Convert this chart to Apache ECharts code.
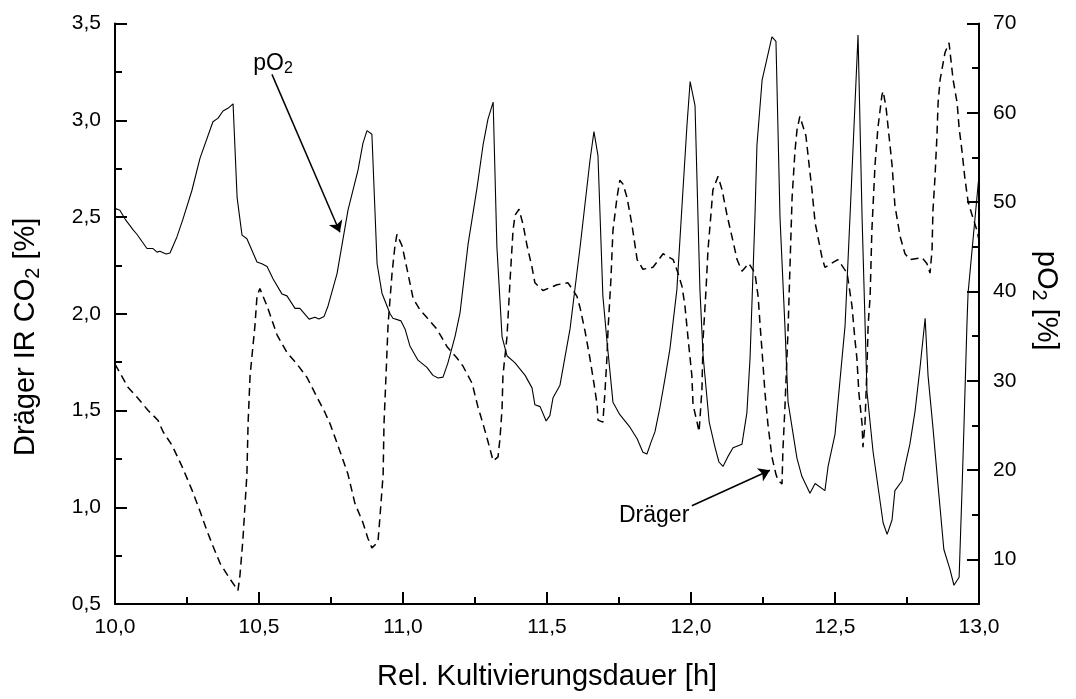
<!DOCTYPE html>
<html>
<head>
<meta charset="utf-8">
<script src="https://cdn.jsdelivr.net/npm/echarts@6/dist/echarts.min.js"></script>
<style>
  html, body { margin: 0; padding: 0; background: #fff; }
  #chart { width: 1076px; height: 699px; }
</style>
</head>
<body>
<div id="chart"></div>
<script>
// pO2 probe signal [%] (solid line, right axis)
const timeO2 = [
  10.000, 10.017, 10.035, 10.063, 10.076, 10.111, 10.132, 10.146, 10.156, 10.177,
  10.191, 10.215, 10.236, 10.267, 10.295, 10.340, 10.358, 10.375, 10.392, 10.410,
  10.424, 10.441, 10.458, 10.493, 10.510, 10.528, 10.549, 10.580, 10.597, 10.625,
  10.642, 10.674, 10.694, 10.708, 10.726, 10.740, 10.771, 10.809, 10.844, 10.861,
  10.875, 10.892, 10.910, 10.927, 10.955, 10.965, 10.993, 11.007, 11.024, 11.052,
  11.083, 11.104, 11.122, 11.139, 11.156, 11.181, 11.198, 11.226, 11.257, 11.278,
  11.295, 11.313, 11.326, 11.344, 11.361, 11.389, 11.424, 11.448, 11.458, 11.476,
  11.497, 11.510, 11.521, 11.545, 11.580, 11.615, 11.649, 11.663, 11.677, 11.694,
  11.708, 11.729, 11.753, 11.788, 11.813, 11.833, 11.847, 11.861, 11.875, 11.892,
  11.910, 11.927, 11.951, 11.972, 11.986, 11.997, 12.014, 12.031, 12.042, 12.063,
  12.083, 12.097, 12.111, 12.128, 12.146, 12.177, 12.194, 12.205, 12.222, 12.229,
  12.247, 12.281, 12.295, 12.309, 12.326, 12.337, 12.368, 12.385, 12.413, 12.431,
  12.465, 12.476, 12.500, 12.535, 12.552, 12.580, 12.594, 12.611, 12.632, 12.667,
  12.681, 12.698, 12.708, 12.733, 12.743, 12.760, 12.778, 12.795, 12.813, 12.823,
  12.840, 12.858, 12.878, 12.899, 12.913, 12.931, 12.941, 12.948, 12.958, 12.962,
  13.000
];
const pO2Values = [
  49.3, 49.1, 48.1, 46.9, 46.4, 44.8, 44.8, 44.4, 44.5, 44.2,
  44.3, 46.1, 48.1, 51.3, 54.9, 59.0, 59.4, 60.2, 60.5, 61.0,
  50.5, 46.3, 45.9, 43.3, 43.1, 42.8, 41.4, 39.7, 39.5, 38.1,
  38.1, 36.9, 37.1, 36.9, 37.2, 38.4, 42.0, 49.1, 53.6, 56.6,
  58.0, 57.6, 43.1, 39.8, 37.5, 37.0, 36.7, 35.8, 33.9, 32.3,
  31.5, 30.6, 30.3, 30.4, 32.0, 35.0, 37.6, 45.3, 51.6, 56.4,
  59.3, 61.2, 45.0, 34.9, 32.8, 32.0, 30.6, 29.2, 27.3, 27.1,
  25.5, 26.1, 28.1, 29.5, 35.8, 45.0, 54.6, 57.9, 55.2, 39.5,
  34.5, 27.6, 26.2, 24.8, 23.5, 22.0, 21.8, 23.1, 24.3, 27.0,
  30.3, 33.6, 40.2, 51.3, 58.6, 63.5, 60.8, 40.2, 32.8, 25.4,
  22.6, 20.9, 20.4, 21.5, 22.5, 22.9, 26.4, 32.5, 48.3, 56.4,
  63.7, 68.5, 68.0, 48.3, 36.2, 27.6, 21.3, 19.3, 17.4, 18.5,
  17.7, 20.4, 24.0, 36.2, 48.3, 68.7, 48.3, 28.8, 22.1, 14.1,
  12.8, 14.4, 17.7, 18.8, 20.4, 22.9, 26.6, 31.4, 37.0, 30.6,
  24.8, 18.2, 11.1, 8.9, 7.1, 8.0, 17.7, 25.1, 36.2, 39.8,
  53.0
];

// Dräger IR off-gas CO2 [%] (dashed line, left axis)
const timeCO2 = [
  10.000, 10.045, 10.076, 10.115, 10.149, 10.167, 10.198, 10.233, 10.267, 10.295,
  10.319, 10.340, 10.365, 10.399, 10.427, 10.434, 10.444, 10.458, 10.462, 10.469,
  10.486, 10.493, 10.503, 10.528, 10.563, 10.597, 10.632, 10.667, 10.701, 10.729,
  10.747, 10.781, 10.809, 10.833, 10.861, 10.878, 10.892, 10.913, 10.920, 10.931,
  10.934, 10.941, 10.948, 10.962, 10.972, 10.979, 10.997, 11.007, 11.024, 11.035,
  11.059, 11.083, 11.118, 11.153, 11.188, 11.208, 11.240, 11.260, 11.278, 11.295,
  11.313, 11.330, 11.337, 11.344, 11.347, 11.361, 11.372, 11.382, 11.389, 11.403,
  11.417, 11.431, 11.448, 11.458, 11.486, 11.535, 11.573, 11.604, 11.615, 11.632,
  11.649, 11.663, 11.674, 11.677, 11.694, 11.701, 11.708, 11.712, 11.722, 11.729,
  11.743, 11.753, 11.764, 11.778, 11.795, 11.813, 11.833, 11.868, 11.903, 11.938,
  11.955, 11.969, 11.979, 11.990, 12.003, 12.007, 12.021, 12.028, 12.038, 12.042,
  12.052, 12.059, 12.069, 12.076, 12.094, 12.108, 12.125, 12.142, 12.160, 12.177,
  12.201, 12.222, 12.233, 12.240, 12.247, 12.257, 12.267, 12.281, 12.295, 12.302,
  12.316, 12.319, 12.326, 12.333, 12.337, 12.344, 12.351, 12.361, 12.368, 12.378,
  12.399, 12.410, 12.420, 12.431, 12.455, 12.465, 12.510, 12.542, 12.559, 12.569,
  12.576, 12.583, 12.594, 12.597, 12.604, 12.611, 12.615, 12.622, 12.628, 12.639,
  12.649, 12.663, 12.667, 12.677, 12.684, 12.698, 12.708, 12.726, 12.743, 12.760,
  12.802, 12.819, 12.830, 12.837, 12.840, 12.847, 12.854, 12.858, 12.865, 12.882,
  12.896, 12.910, 12.924, 12.931, 12.941, 12.951, 12.962, 12.976, 12.993, 13.000
];
const co2Values = [
  1.74, 1.62, 1.57, 1.50, 1.45, 1.39, 1.32, 1.21, 1.09, 0.98,
  0.88, 0.80, 0.71, 0.63, 0.57, 0.65, 0.83, 1.17, 1.43, 1.68,
  1.94, 2.09, 2.13, 2.04, 1.89, 1.80, 1.74, 1.67, 1.57, 1.49,
  1.43, 1.29, 1.17, 1.02, 0.92, 0.84, 0.79, 0.82, 0.95, 1.17,
  1.43, 1.68, 1.94, 2.21, 2.35, 2.41, 2.35, 2.28, 2.16, 2.08,
  2.02, 1.98, 1.92, 1.83, 1.77, 1.73, 1.64, 1.52, 1.43, 1.34,
  1.24, 1.26, 1.36, 1.51, 1.68, 1.88, 2.18, 2.43, 2.51, 2.54,
  2.46, 2.35, 2.24, 2.16, 2.12, 2.15, 2.16, 2.09, 2.03, 1.91,
  1.77, 1.64, 1.53, 1.45, 1.44, 1.59, 1.77, 1.92, 2.18, 2.43,
  2.60, 2.69, 2.67, 2.60, 2.46, 2.28, 2.23, 2.24, 2.31, 2.28,
  2.21, 2.14, 2.04, 1.87, 1.68, 1.53, 1.44, 1.39, 1.61, 1.87,
  2.12, 2.33, 2.51, 2.64, 2.71, 2.64, 2.51, 2.40, 2.28, 2.22,
  2.26, 2.21, 2.09, 1.94, 1.80, 1.59, 1.43, 1.26, 1.17, 1.14,
  1.12, 1.29, 1.51, 1.77, 1.92, 2.26, 2.60, 2.84, 2.95, 3.02,
  2.92, 2.77, 2.64, 2.47, 2.29, 2.24, 2.28, 2.21, 2.04, 1.87,
  1.77, 1.59, 1.43, 1.31, 1.43, 1.72, 1.94, 2.09, 2.43, 2.77,
  2.96, 3.13, 3.15, 3.07, 2.97, 2.77, 2.56, 2.40, 2.31, 2.28,
  2.29, 2.26, 2.21, 2.33, 2.53, 2.70, 2.92, 3.09, 3.21, 3.35,
  3.40, 3.21, 3.09, 2.96, 2.84, 2.70, 2.58, 2.51, 2.43, 2.38
];

// Axis tick values
const xTicks = [10, 10.5, 11, 11.5, 12, 12.5, 13];
const co2Ticks = [0.5, 1, 1.5, 2, 2.5, 3, 3.5];
const pO2Ticks = [10, 20, 30, 40, 50, 60, 70];
const pO2MinorTicks = [15, 25, 35, 45, 55, 65];

// Annotation arrows (data coordinates on the CO2 axis)
const pO2Label = [10.549, 3.293];
const pO2Arrow = [[10.545, 3.237], [10.781, 2.421]];
const draegerLabel = [11.872, 0.958];
const draegerArrow = [[12.003, 1.008], [12.274, 1.191]];

const FONT = '"Liberation Sans", Arial, Helvetica, sans-serif';
const comma = v => v.toFixed(1).replace('.', ',');

const zip = (xs, ys) => xs.map((x, i) => [x, ys[i]]);

const tickStyle = { color: '#000', width: 2 };
const labelStyle = { color: '#000', fontSize: 21, fontFamily: FONT };
const nameStyle = {
  color: '#000', fontSize: 29, fontFamily: FONT, lineHeight: 34,
  rich: { sub: { fontSize: 20, lineHeight: 12, verticalAlign: 'bottom', fontFamily: FONT } }
};

const chart = echarts.init(document.getElementById('chart'), null, { renderer: 'canvas' });

chart.setOption({
  animation: false,
  backgroundColor: '#fff',
  grid: { left: 115, right: 97, top: 23.5, bottom: 87, containLabel: false },
  xAxis: {
    type: 'value', min: xTicks[0], max: xTicks[xTicks.length - 1], interval: 0.5,
    axisLine: { lineStyle: tickStyle },
    axisTick: { inside: true, length: 12, lineStyle: tickStyle },
    minorTick: { show: true, splitNumber: 2, length: 7, lineStyle: tickStyle },
    splitLine: { show: false },
    axisLabel: { ...labelStyle, margin: 13, formatter: comma },
    name: 'Rel. Kultivierungsdauer [h]', nameLocation: 'middle', nameGap: 56,
    nameTextStyle: nameStyle
  },
  yAxis: [
    {
      type: 'value', position: 'left', min: co2Ticks[0], max: co2Ticks[co2Ticks.length - 1], interval: 0.5,
      axisLine: { show: true, lineStyle: tickStyle },
      axisTick: { inside: true, length: 12, lineStyle: tickStyle },
      minorTick: { show: true, splitNumber: 2, length: 7, lineStyle: tickStyle },
      splitLine: { show: false },
      axisLabel: { ...labelStyle, margin: 14, formatter: comma },
      name: 'Dräger IR CO{sub|2} [%]', nameLocation: 'middle', nameGap: 72,
      nameTextStyle: { ...nameStyle, padding: [0, 46, 0, 0] }
    },
    {
      type: 'value', position: 'right', min: 5, max: 70,
      axisLine: { show: true, lineStyle: tickStyle },
      axisTick: { inside: true, length: 12, lineStyle: tickStyle, customValues: pO2Ticks },
      splitLine: { show: false },
      axisLabel: { ...labelStyle, margin: 14, customValues: pO2Ticks },
      name: 'pO{sub|2} [%]', nameLocation: 'middle', nameGap: 50, nameRotate: -90,
      nameTextStyle: { ...nameStyle, padding: [0, 26, 0, 0] }
    },
    {
      type: 'value', position: 'right', min: 5, max: 70,
      axisLine: { show: false },
      axisTick: { show: true, inside: true, length: 7, lineStyle: tickStyle, customValues: pO2MinorTicks },
      axisLabel: { show: false },
      splitLine: { show: false }
    }
  ],
  series: [
    {
      name: 'Dräger',
      type: 'line', yAxisIndex: 0, xAxisIndex: 0,
      data: zip(timeCO2, co2Values),
      showSymbol: false, symbol: 'none',
      lineStyle: { color: '#000', width: 1.5, type: [8, 5] },
      markLine: {
        silent: true, symbol: ['none', 'arrow'], symbolSize: 11,
        lineStyle: { color: '#000', width: 1.5, type: 'solid' },
        label: { show: false },
        data: [
          [{ coord: pO2Arrow[0] }, { coord: pO2Arrow[1] }],
          [{ coord: draegerArrow[0] }, { coord: draegerArrow[1] }]
        ]
      },
      markPoint: {
        silent: true, symbol: 'circle', symbolSize: 0,
        label: {
          show: true, position: 'inside', color: '#000', fontSize: 23, fontFamily: FONT, lineHeight: 27,
          rich: { sub: { fontSize: 16, lineHeight: 9, verticalAlign: 'bottom', fontFamily: FONT } }
        },
        data: [
          { coord: pO2Label, label: { formatter: 'pO{sub|2}' } },
          { coord: draegerLabel, label: { formatter: 'Dräger' } }
        ]
      }
    },
    {
      name: 'pO2',
      type: 'line', yAxisIndex: 1, xAxisIndex: 0,
      data: zip(timeO2, pO2Values),
      showSymbol: false, symbol: 'none',
      lineStyle: { color: '#000', width: 1.1 }
    }
  ]
});
</script>
</body>
</html>
